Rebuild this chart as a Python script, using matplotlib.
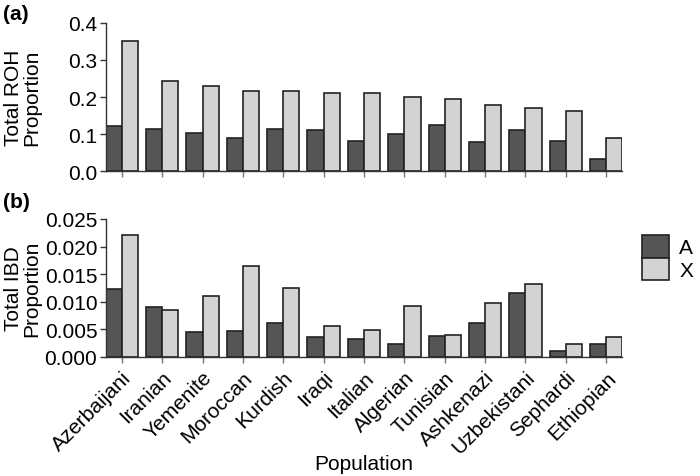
import numpy as np
from matplotlib import pyplot as plt

plt.rcParams['font.family'] = ['Liberation Sans', 'DejaVu Sans']

populations = ['Azerbaijani', 'Iranian', 'Yemenite', 'Moroccan', 'Kurdish', 'Iraqi', 'Italian',
               'Algerian', 'Tunisian', 'Ashkenazi', 'Uzbekistani', 'Sephardi', 'Ethiopian']

roh_A = [0.121, 0.115, 0.103, 0.089, 0.115, 0.111, 0.082, 0.101, 0.124, 0.079, 0.110, 0.082, 0.034]
roh_X = [0.350, 0.244, 0.231, 0.215, 0.215, 0.212, 0.210, 0.201, 0.195, 0.178, 0.171, 0.161, 0.089]

ibd_A = [0.01235, 0.0091, 0.0045, 0.0047, 0.0062, 0.00355, 0.00325, 0.0024, 0.0038, 0.0061, 0.01157, 0.0011, 0.0023]
ibd_X = [0.02217, 0.00855, 0.0110, 0.0164, 0.01247, 0.0057, 0.0049, 0.0093, 0.0040, 0.0098, 0.01325, 0.00235, 0.0037]

dark = '#555555'
light = '#d3d3d3'
edge = '#222222'
fs = 15

fig = plt.figure(figsize=(7, 4.77), dpi=100)
ax1 = fig.add_axes([0.151, 0.639, 0.738, 0.311])
ax2 = fig.add_axes([0.151, 0.2495, 0.738, 0.2895])

x = np.arange(len(populations))
w = 0.4

for ax, a, xx in [(ax1, roh_A, roh_X), (ax2, ibd_A, ibd_X)]:
    ax.bar(x - w / 2, a, w, color=dark, edgecolor=edge, linewidth=1.2, label='A')
    ax.bar(x + w / 2, xx, w, color=light, edgecolor=edge, linewidth=1.2, label='X')
    ax.set_xlim(-0.4, len(populations) - 0.6)
    ax.set_xticks(x)
    for s in ['top', 'right']:
        ax.spines[s].set_visible(False)
    for s in ['left', 'bottom']:
        ax.spines[s].set_color('#333333')
        ax.spines[s].set_linewidth(1.0)
    ax.tick_params(axis='x', color='#777777', length=4, width=1.0)
    ax.tick_params(axis='y', color='#333333', length=4, width=1.0, labelsize=fs, pad=2)

ax1.set_ylim(0, 0.4)
ax1.set_yticks([0.0, 0.1, 0.2, 0.3, 0.4])
ax1.set_yticklabels(['0.0', '0.1', '0.2', '0.3', '0.4'])
ax1.set_xticklabels([])
ax1.set_ylabel('Total ROH\nProportion', fontsize=fs, linespacing=0.95)
ax1.yaxis.set_label_coords(-0.124, 0.5)

ax2.set_ylim(0, 0.025)
ax2.set_yticks([0.0, 0.005, 0.01, 0.015, 0.02, 0.025])
ax2.set_yticklabels(['0.000', '0.005', '0.010', '0.015', '0.020', '0.025'])
ax2.set_xticklabels(populations, rotation=45, ha='right', rotation_mode='anchor', fontsize=fs)
ax2.set_ylabel('Total IBD\nProportion', fontsize=fs, linespacing=0.95)
ax2.yaxis.set_label_coords(-0.124, 0.5)
ax2.set_xlabel('Population', fontsize=fs, va='top')
ax2.xaxis.set_label_coords(0.5, -0.70)

fig.text(0.004, 0.99, '(a)', fontsize=fs, fontweight='bold', va='top')
fig.text(0.004, 0.595, '(b)', fontsize=fs, fontweight='bold', va='top')

h, l = ax2.get_legend_handles_labels()
fig.legend(h, l, loc='upper left', bbox_to_anchor=(0.917, 1 - 236 / 477), frameon=False,
           fontsize=fs, handlelength=1.3, handleheight=1.3, labelspacing=0.0,
           borderpad=0, borderaxespad=0, handletextpad=0.5)

fig.savefig('out.png', dpi=100)
